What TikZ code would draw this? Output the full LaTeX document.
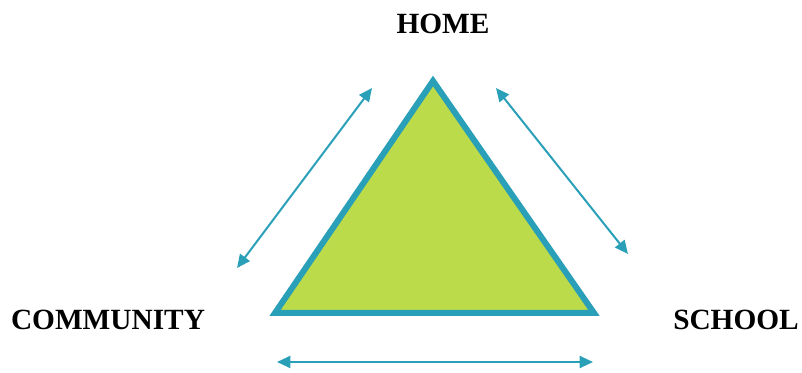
\documentclass[tikz,border=0pt]{standalone}
\usepackage{fontspec}
\setmainfont{Liberation Serif}
\usepackage{tikz}
\usetikzlibrary{arrows.meta, positioning}
\definecolor{tealline}{HTML}{2A9FB8}
\definecolor{limefill}{HTML}{BCDB4A}
\tikzstyle{place} = [font=\bfseries\fontsize{22}{26}\selectfont, inner sep=0pt]
\tikzstyle{link} = [tealline, line width=1.5pt, {Triangle[length=10pt, width=9pt]}-{Triangle[length=10pt, width=9pt]}]

\begin{document}
\begin{tikzpicture}[x=0.75pt, y=-0.75pt]
  \useasboundingbox (0,0) rectangle (802,373);
  % corners of the triangle
  \coordinate (top) at (433,81);
  \coordinate (left) at (275,313);
  \coordinate (right) at (594,313);
  \draw[tealline, fill=limefill, line width=4.5pt, line join=miter] (top) -- (right) -- (left) -- cycle;

  \node[place] (home) at (443,24) {HOME};
  \node[place] (community) at (108,320) {COMMUNITY};
  \node[place] (school) at (736,320) {SCHOOL};

  % ends of the arrows
  \coordinate (hl) at (372,88);
  \coordinate (cl) at (237,268);
  \coordinate (hr) at (496,88);
  \coordinate (sr) at (628,254);
  \coordinate (cb) at (277,362);
  \coordinate (sb) at (593,362);

  \draw[link] (cl) -- (hl);
  \draw[link] (hr) -- (sr);
  \draw[link] (cb) -- (sb);
\end{tikzpicture}
\end{document}
